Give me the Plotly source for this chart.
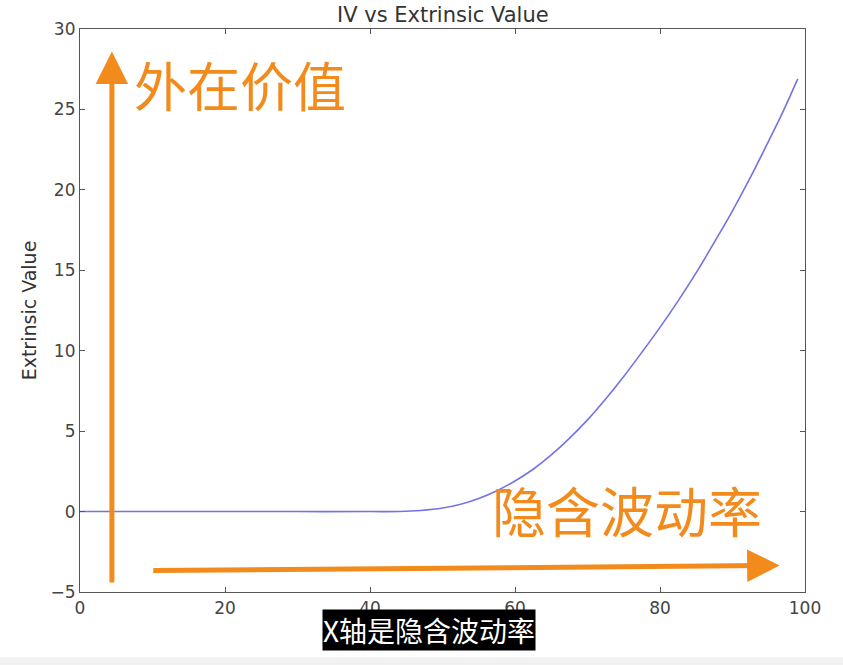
import plotly.graph_objects as go

iv = [0, 10, 20, 30, 40, 44, 47, 50, 52.5, 55, 57.5, 60, 62.5, 65, 67.5, 70, 72.5, 75,
      77.5, 80, 82.5, 85, 87.5, 90, 92.5, 95, 97, 99]
extrinsic = [0, 0, 0, 0, 0, 0.005, 0.07, 0.22, 0.46, 0.82, 1.3, 1.9, 2.63, 3.52, 4.55, 5.7,
             7.0, 8.4, 9.9, 11.45, 13.1, 14.85, 16.75, 18.7, 20.8, 23.05, 24.9, 26.9]

xticks = [0, 20, 40, 60, 80, 100]
yticks = [-5, 0, 5, 10, 15, 20, 25, 30]
ytick_text = ["\u22125", "0", "5", "10", "15", "20", "25", "30"]

orange = "#f28b1c"
cjk = "Noto Sans CJK SC"

fig = go.Figure()
fig.add_trace(go.Scatter(x=iv, y=extrinsic, mode="lines", line=dict(color="#7373e6", width=1.6),
                         line_shape="spline", showlegend=False))

axis_common = dict(showgrid=False, zeroline=False, showline=True, linecolor="#555", linewidth=1.2,
                   mirror="ticks", ticks="inside", ticklen=5, tickcolor="#555", automargin=False,
                   tickfont=dict(family="DejaVu Sans", size=17, color="#444"))

fig.update_layout(
    width=843, height=665,
    margin=dict(l=80, r=38, t=29, b=73),
    paper_bgcolor="white", plot_bgcolor="white",
    xaxis=dict(range=[0, 100], tickvals=xticks, **axis_common),
    yaxis=dict(range=[-5, 30], tickvals=yticks, ticktext=ytick_text,
               title=dict(text="Extrinsic Value", font=dict(family="DejaVu Sans", size=19, color="#333"),
                          standoff=8),
               **axis_common),
)

# title
fig.add_annotation(x=0.5, y=1, xref="paper", yref="paper", text="IV vs Extrinsic Value", showarrow=False,
                   xanchor="center", yanchor="bottom", borderpad=0, yshift=1,
                   font=dict(family="DejaVu Sans", size=21, color="#333"))

# vertical arrow
fig.add_annotation(x=4.4, y=28.6, ax=4.4, ay=-4.5, xref="x", yref="y", axref="x", ayref="y",
                   showarrow=True, arrowhead=2, arrowsize=1.3, arrowwidth=5, arrowcolor=orange, text="")
# horizontal arrow
fig.add_annotation(x=96.5, y=-3.35, ax=9.9, ay=-3.67, xref="x", yref="y", axref="x", ayref="y",
                   showarrow=True, arrowhead=2, arrowsize=1.3, arrowwidth=5, arrowcolor=orange, text="")

fig.add_annotation(x=7.2, y=26.6, xref="x", yref="y", text="外在价值", showarrow=False,
                   xanchor="left", yanchor="middle", font=dict(family=cjk, size=53, color=orange))
fig.add_annotation(x=56.5, y=0.1, xref="x", yref="y", text="隐含波动率", showarrow=False,
                   xanchor="left", yanchor="middle", font=dict(family=cjk, size=54, color=orange))

fig.add_annotation(x=0.482, y=-0.0675, xref="paper", yref="paper", text="X轴是隐含波动率", showarrow=False,
                   xanchor="center", yanchor="middle", bgcolor="black", borderpad=0,
                   font=dict(family=cjk, size=28, color="white"))

fig.add_shape(type="rect", xref="paper", yref="paper", x0=-0.2, x1=1.1, y0=-0.135, y1=-0.116,
              fillcolor="#f1f1f1", line=dict(width=0), layer="below")

fig.write_html("out.html", config={"displayModeBar": False},
               post_script="document.body.style.margin='0';document.body.style.overflow='hidden';")
